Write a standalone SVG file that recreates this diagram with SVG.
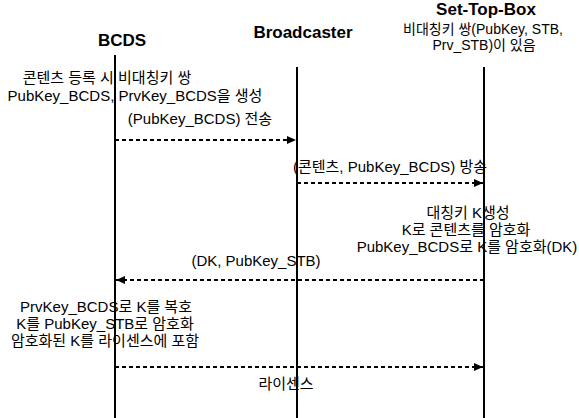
<svg xmlns="http://www.w3.org/2000/svg" width="579" height="418" viewBox="0 0 579 418">
<defs>
<style>
text{font-family:"Liberation Sans","Noto Sans CJK KR",sans-serif;fill:#000;text-anchor:middle}
.t{font-size:17px;font-weight:bold}
.b{font-size:15px}
.s{font-size:14px}
.life{stroke:#000;stroke-width:2;fill:none}
.msg{stroke:#000;stroke-width:2;stroke-dasharray:4 3;fill:none}
</style>
<marker id="ah" markerWidth="10" markerHeight="10" refX="9" refY="4" orient="auto" markerUnits="userSpaceOnUse">
<path d="M0,0 L9,4 L0,8 Z" fill="#000"/>
</marker>
</defs>
<rect width="579" height="418" fill="#fff"/>
<g id="bcds">
<text class="t" x="122" y="46">BCDS</text>
<line class="life" x1="115" y1="55" x2="115" y2="418"/>
</g>
<g id="broadcaster">
<text class="t" x="303" y="38">Broadcaster</text>
<line class="life" x1="297" y1="67" x2="297" y2="418"/>
</g>
<g id="stb">
<text class="t" x="486" y="15">Set-Top-Box</text>
<text class="s" x="483" y="34">비대칭키 쌍(PubKey, STB,</text>
<text class="s" x="484" y="50">Prv_STB)이 있음</text>
<line class="life" x1="484" y1="67" x2="484" y2="418"/>
</g>
<g id="notes">
<text class="b" x="107" y="83">콘텐츠 등록 시 비대칭키 쌍</text>
<text class="b" x="135" y="101">PubKey_BCDS, PrvKey_BCDS을 생성</text>
<text class="b" x="468" y="218">대칭키 K생성</text>
<text class="b" x="466" y="235">K로 콘텐츠를 암호화</text>
<text class="b" x="467" y="252">PubKey_BCDS로 K를 암호화(DK)</text>
<text class="b" x="106" y="312">PrvKey_BCDS로 K를 복호</text>
<text class="b" x="105" y="329">K를 PubKey_STB로 암호화</text>
<text class="b" x="105" y="346">암호화된 K를 라이센스에 포함</text>
</g>
<g id="connectors">
<line class="msg" x1="115" y1="140" x2="296" y2="140" marker-end="url(#ah)"/>
<text class="b" x="200" y="124">(PubKey_BCDS) 전송</text>
<line class="msg" x1="297" y1="183" x2="483" y2="183" marker-end="url(#ah)"/>
<text class="b" x="390" y="172">(콘텐츠, PubKey_BCDS) 방송</text>
<line class="msg" x1="484" y1="280" x2="116" y2="280" marker-end="url(#ah)"/>
<text class="b" x="256" y="266">(DK, PubKey_STB)</text>
<line class="msg" x1="115" y1="367" x2="483" y2="367" marker-end="url(#ah)"/>
<text class="b" x="286" y="389">라이센스</text>
</g>
</svg>
